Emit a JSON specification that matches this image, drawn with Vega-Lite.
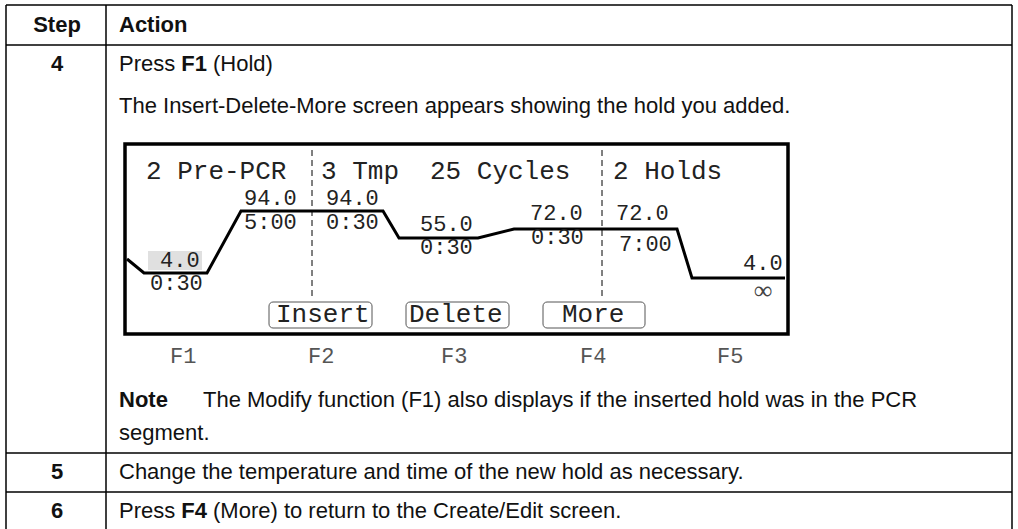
{
  "$schema": "https://vega.github.io/schema/vega-lite/v6.json",
  "width": 1018,
  "height": 529,
  "padding": 0,
  "autosize": {"type": "none"},
  "background": "white",
  "config": {"view": {"stroke": null}, "axis": {"disable": true}},
  "datasets": {
    "rules": [
      {"x": 6, "y": 5, "x2": 1012, "y2": 5},
      {"x": 6, "y": 45, "x2": 1012, "y2": 45},
      {"x": 6, "y": 453, "x2": 1012, "y2": 453},
      {"x": 6, "y": 492, "x2": 1012, "y2": 492},
      {"x": 6, "y": 5, "x2": 6, "y2": 529},
      {"x": 106, "y": 5, "x2": 106, "y2": 529},
      {"x": 1012, "y": 5, "x2": 1012, "y2": 529}
    ],
    "shade": [{"x": 148, "x2": 202, "y": 251, "y2": 270}],
    "box": [{"x": 125, "x2": 788, "y": 144, "y2": 334}],
    "buttons": [
      {"x": 269, "x2": 372, "y": 302, "y2": 328},
      {"x": 406, "x2": 509, "y": 302, "y2": 328},
      {"x": 543, "x2": 645, "y": 302, "y2": 328}
    ],
    "dashes": [
      {"x": 312, "y": 150, "x2": 312, "y2": 300},
      {"x": 602, "y": 150, "x2": 602, "y2": 298}
    ],
    "profile": [
      {"i": 1, "x": 127, "y": 259},
      {"i": 2, "x": 144, "y": 273},
      {"i": 3, "x": 207, "y": 273},
      {"i": 4, "x": 241, "y": 211},
      {"i": 5, "x": 383, "y": 211},
      {"i": 6, "x": 399, "y": 238},
      {"i": 7, "x": 478, "y": 238},
      {"i": 8, "x": 514, "y": 229},
      {"i": 9, "x": 677, "y": 229},
      {"i": 10, "x": 692, "y": 278},
      {"i": 11, "x": 785, "y": 278}
    ],
    "sans": [
      {"x": 119, "y": 71, "t": "Press"},
      {"x": 213, "y": 71, "t": "(Hold)"},
      {"x": 119, "y": 113, "t": "The Insert-Delete-More screen appears showing the hold you added."},
      {"x": 203, "y": 407, "t": "The Modify function (F1) also displays if the inserted hold was in the PCR"},
      {"x": 119, "y": 440, "t": "segment."},
      {"x": 119, "y": 479, "t": "Change the temperature and time of the new hold as necessary."},
      {"x": 119, "y": 518, "t": "Press"},
      {"x": 213, "y": 518, "t": "(More) to return to the Create/Edit screen."}
    ],
    "sansBold": [
      {"x": 119, "y": 32, "t": "Action"},
      {"x": 181.3, "y": 71, "t": "F1"},
      {"x": 119, "y": 407, "t": "Note"},
      {"x": 181.3, "y": 518, "t": "F4"}
    ],
    "sansBoldC": [
      {"x": 57, "y": 32, "t": "Step"},
      {"x": 57, "y": 71, "t": "4"},
      {"x": 57, "y": 479, "t": "5"},
      {"x": 57, "y": 518, "t": "6"}
    ],
    "monoHead": [
      {"x": 146, "y": 179, "t": "2 Pre-PCR"},
      {"x": 321, "y": 179, "t": "3 Tmp"},
      {"x": 430, "y": 179, "t": "25 Cycles"},
      {"x": 613, "y": 179, "t": "2 Holds"},
      {"x": 276, "y": 322, "t": "Insert"},
      {"x": 409, "y": 322, "t": "Delete"},
      {"x": 562, "y": 322, "t": "More"}
    ],
    "monoNum": [
      {"x": 160, "y": 267, "t": "4.0"},
      {"x": 150, "y": 290, "t": "0:30"},
      {"x": 244, "y": 205, "t": "94.0"},
      {"x": 244, "y": 229, "t": "5:00"},
      {"x": 326, "y": 205, "t": "94.0"},
      {"x": 326, "y": 229, "t": "0:30"},
      {"x": 420, "y": 231, "t": "55.0"},
      {"x": 420, "y": 254, "t": "0:30"},
      {"x": 530, "y": 220, "t": "72.0"},
      {"x": 531, "y": 244, "t": "0:30"},
      {"x": 616, "y": 220, "t": "72.0"},
      {"x": 619, "y": 251, "t": "7:00"},
      {"x": 743, "y": 270, "t": "4.0"}
    ],
    "fkeys": [
      {"x": 170, "y": 363, "t": "F1"},
      {"x": 308, "y": 363, "t": "F2"},
      {"x": 441, "y": 363, "t": "F3"},
      {"x": 580, "y": 363, "t": "F4"},
      {"x": 717, "y": 363, "t": "F5"}
    ],
    "inf": [{"x": 763, "y": 291, "t": "∞"}]
  },
  "layer": [
    {
      "data": {"name": "shade"},
      "mark": {"type": "rect", "fill": "#e0e0e0"},
      "encoding": {
        "x": {"field": "x", "type": "quantitative", "scale": {"domain": [0, 1018], "nice": false, "zero": false}, "axis": null},
        "x2": {"field": "x2"},
        "y": {"field": "y", "type": "quantitative", "scale": {"domain": [0, 529], "nice": false, "zero": false, "reverse": true}, "axis": null},
        "y2": {"field": "y2"}
      }
    },
    {
      "data": {"name": "rules"},
      "mark": {"type": "rule", "color": "black", "strokeWidth": 1.5},
      "encoding": {
        "x": {"field": "x", "type": "quantitative"},
        "x2": {"field": "x2"},
        "y": {"field": "y", "type": "quantitative"},
        "y2": {"field": "y2"}
      }
    },
    {
      "data": {"name": "box"},
      "mark": {"type": "rect", "fillOpacity": 0, "stroke": "black", "strokeWidth": 3.5},
      "encoding": {
        "x": {"field": "x", "type": "quantitative"},
        "x2": {"field": "x2"},
        "y": {"field": "y", "type": "quantitative"},
        "y2": {"field": "y2"}
      }
    },
    {
      "data": {"name": "buttons"},
      "mark": {"type": "rect", "fillOpacity": 0, "stroke": "#555555", "strokeWidth": 1, "cornerRadius": 4},
      "encoding": {
        "x": {"field": "x", "type": "quantitative"},
        "x2": {"field": "x2"},
        "y": {"field": "y", "type": "quantitative"},
        "y2": {"field": "y2"}
      }
    },
    {
      "data": {"name": "dashes"},
      "mark": {"type": "rule", "color": "black", "strokeWidth": 1, "strokeDash": [6, 4]},
      "encoding": {
        "x": {"field": "x", "type": "quantitative"},
        "x2": {"field": "x2"},
        "y": {"field": "y", "type": "quantitative"},
        "y2": {"field": "y2"}
      }
    },
    {
      "data": {"name": "profile"},
      "mark": {"type": "line", "color": "black", "strokeWidth": 3, "strokeJoin": "miter"},
      "encoding": {
        "x": {"field": "x", "type": "quantitative"},
        "y": {"field": "y", "type": "quantitative"},
        "order": {"field": "i", "type": "quantitative"}
      }
    },
    {
      "data": {"name": "sans"},
      "mark": {"type": "text", "font": "Liberation Sans", "fontSize": 22, "align": "left", "baseline": "alphabetic", "color": "#111111"},
      "encoding": {
        "x": {"field": "x", "type": "quantitative"},
        "y": {"field": "y", "type": "quantitative"},
        "text": {"field": "t"}
      }
    },
    {
      "data": {"name": "sansBold"},
      "mark": {"type": "text", "font": "Liberation Sans", "fontWeight": "bold", "fontSize": 22, "align": "left", "baseline": "alphabetic", "color": "#111111"},
      "encoding": {
        "x": {"field": "x", "type": "quantitative"},
        "y": {"field": "y", "type": "quantitative"},
        "text": {"field": "t"}
      }
    },
    {
      "data": {"name": "sansBoldC"},
      "mark": {"type": "text", "font": "Liberation Sans", "fontWeight": "bold", "fontSize": 22, "align": "center", "baseline": "alphabetic", "color": "#111111"},
      "encoding": {
        "x": {"field": "x", "type": "quantitative"},
        "y": {"field": "y", "type": "quantitative"},
        "text": {"field": "t"}
      }
    },
    {
      "data": {"name": "monoHead"},
      "mark": {"type": "text", "font": "Liberation Mono", "fontSize": 26, "align": "left", "baseline": "alphabetic", "color": "#222222"},
      "encoding": {
        "x": {"field": "x", "type": "quantitative"},
        "y": {"field": "y", "type": "quantitative"},
        "text": {"field": "t"}
      }
    },
    {
      "data": {"name": "monoNum"},
      "mark": {"type": "text", "font": "Liberation Mono", "fontSize": 22, "align": "left", "baseline": "alphabetic", "color": "#222222"},
      "encoding": {
        "x": {"field": "x", "type": "quantitative"},
        "y": {"field": "y", "type": "quantitative"},
        "text": {"field": "t"}
      }
    },
    {
      "data": {"name": "fkeys"},
      "mark": {"type": "text", "font": "Liberation Mono", "fontSize": 22, "align": "left", "baseline": "alphabetic", "color": "#555555"},
      "encoding": {
        "x": {"field": "x", "type": "quantitative"},
        "y": {"field": "y", "type": "quantitative"},
        "text": {"field": "t"}
      }
    },
    {
      "data": {"name": "inf"},
      "mark": {"type": "text", "font": "DejaVu Sans", "fontSize": 26, "align": "center", "baseline": "middle", "color": "#444444", "fontWeight": 300},
      "encoding": {
        "x": {"field": "x", "type": "quantitative"},
        "y": {"field": "y", "type": "quantitative"},
        "text": {"field": "t"}
      }
    }
  ]
}
